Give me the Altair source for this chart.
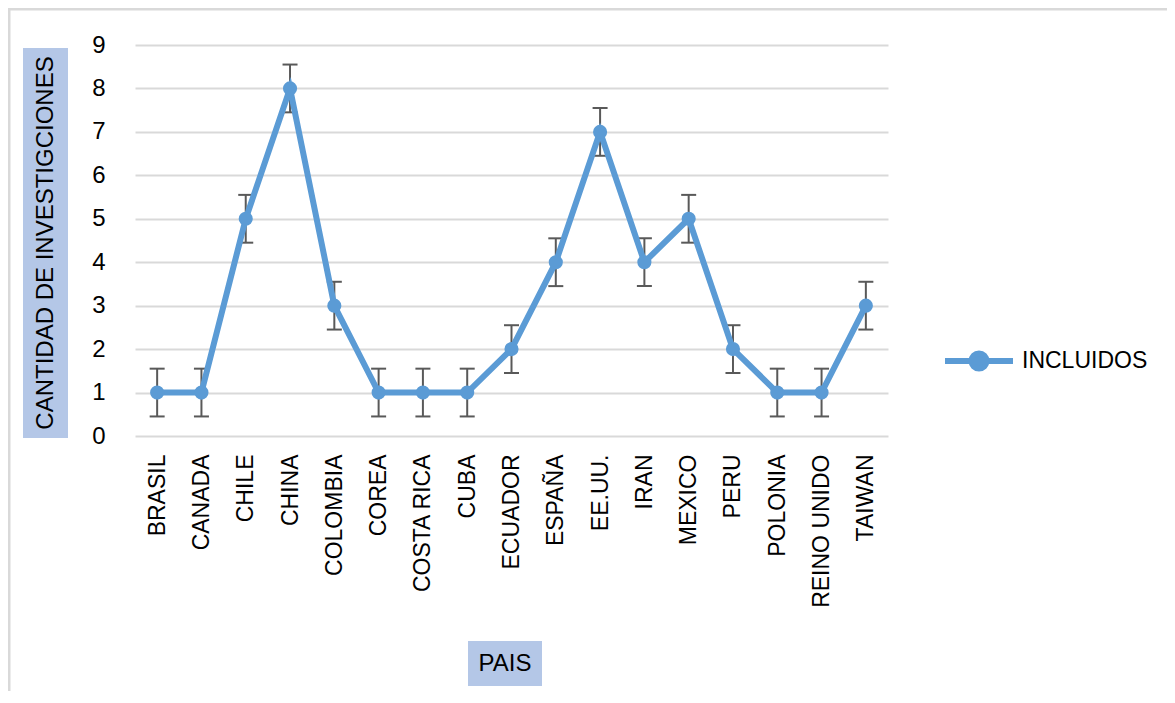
import altair as alt
import pandas as pd

# ---- data ----
paises = ["BRASIL", "CANADA", "CHILE", "CHINA", "COLOMBIA", "COREA", "COSTA RICA",
          "CUBA", "ECUADOR", "ESPAÑA", "EE.UU.", "IRAN", "MEXICO", "PERU",
          "POLONIA", "REINO UNIDO", "TAIWAN"]
investigaciones = [1, 1, 5, 8, 3, 1, 1, 1, 2, 4, 7, 4, 5, 2, 1, 1, 3]
errores = [0.55, 0.55, 0.55, 0.55, 0.55, 0.55, 0.55, 0.55, 0.55,
           0.55, 0.55, 0.55, 0.55, 0.55, 0.55, 0.55, 0.55]
serie = "INCLUIDOS"
y_ticks = [0, 1, 2, 3, 4, 5, 6, 7, 8, 9]
y_title = "CANTIDAD DE INVESTIGCIONES"
x_title = "PAIS"

df = pd.DataFrame({"pais": paises, "n": investigaciones, "err": errores})
df["lo"] = df["n"] - df["err"]
df["hi"] = df["n"] + df["err"]
df["serie"] = serie

W, H = 753, 391
BLUE = "#5B9BD5"
ERR = "#595959"
GRID = "#D9D9D9"
BOX = "#B4C7E7"
FONT = "Liberation Sans"

xs = alt.Scale(type="point", padding=0.5)
ys = alt.Scale(domain=[0, 9], nice=False, zero=True)
xaxis = alt.Axis(title=None, labelAngle=-90, labelFont=FONT, labelFontSize=23,
                 labelColor="#000000", labelPadding=18, ticks=False, domain=False,
                 grid=False)
yaxis = alt.Axis(title=None, values=y_ticks, grid=True, gridColor=GRID, gridWidth=2,
                 domain=False, ticks=False, labelPadding=30, labelFont=FONT,
                 labelFontSize=24, labelColor="#000000")

X = alt.X("pais:N", sort=paises, scale=xs, axis=xaxis)

base = alt.Chart(df)

err_rule = base.mark_rule(color=ERR, strokeWidth=2).encode(
    x=X, y=alt.Y("lo:Q", scale=ys, axis=yaxis), y2="hi:Q")
cap_lo = base.mark_tick(color=ERR, thickness=2, size=15, opacity=1).encode(
    x=X, y=alt.Y("lo:Q", scale=ys, axis=yaxis))
cap_hi = base.mark_tick(color=ERR, thickness=2, size=15, opacity=1).encode(
    x=X, y=alt.Y("hi:Q", scale=ys, axis=yaxis))

legend_path = ("M-1,0L1,0M0.22,0A0.22,0.22,0,1,1,-0.22,0"
               "A0.22,0.22,0,1,1,0.22,0Z")
line = base.mark_line(strokeWidth=6).encode(
    x=X, y=alt.Y("n:Q", scale=ys, axis=yaxis),
    color=alt.Color("serie:N", scale=alt.Scale(domain=[serie], range=[BLUE]),
                    legend=alt.Legend(title=None, orient="none", legendX=807,
                                      legendY=279, symbolType=legend_path,
                                      symbolSize=4624, symbolStrokeWidth=6,
                                      symbolFillColor=BLUE, symbolStrokeColor=BLUE,
                                      labelFont=FONT, labelFontSize=23,
                                      labelColor="#000000", labelOffset=6,
                                      padding=0)))
points = base.mark_circle(size=200, color=BLUE, opacity=1).encode(
    x=X, y=alt.Y("n:Q", scale=ys, axis=yaxis))

# ---- decorations: title boxes and frame ----
one = alt.Chart(pd.DataFrame({"t": [y_title]}))
ybox = one.mark_rect(color=BOX).encode(
    x=alt.value(-112), x2=alt.value(-67), y=alt.value(3), y2=alt.value(393))
ytxt = one.mark_text(angle=270, font=FONT, fontSize=24, color="#000000",
                     align="center", baseline="middle").encode(
    text="t:N", x=alt.value(-89), y=alt.value(198))

two = alt.Chart(pd.DataFrame({"t": [x_title]}))
xbox = two.mark_rect(color=BOX).encode(
    x=alt.value(333), x2=alt.value(407), y=alt.value(596), y2=alt.value(641))
xtxt = two.mark_text(font=FONT, fontSize=24, color="#000000",
                     align="center", baseline="middle").encode(
    text="t:N", x=alt.value(370), y=alt.value(619))

frame_top = two.mark_rule(color=GRID, strokeWidth=3).encode(
    x=alt.value(-127), x2=alt.value(1032), y=alt.value(-36))
frame_left = two.mark_rule(color=GRID, strokeWidth=3).encode(
    x=alt.value(-126), y=alt.value(-36), y2=alt.value(646))

chart = alt.layer(
    frame_top, frame_left, ybox, ytxt, xbox, xtxt,
    err_rule, cap_lo, cap_hi, line, points
).properties(
    width=W, height=H,
    autosize=alt.AutoSizeParams(type="none"),
    padding={"left": 127, "top": 37, "right": 279, "bottom": 255},
    background="#FFFFFF",
).configure_view(strokeWidth=0)

chart.save("out.html", embed_options={"renderer": "svg", "actions": False})
